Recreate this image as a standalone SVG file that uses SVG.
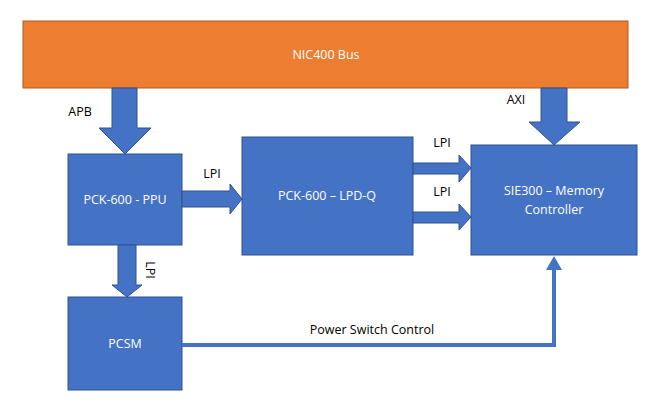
<svg xmlns="http://www.w3.org/2000/svg" width="652" height="406" viewBox="0 0 652 406">
<style>
.b{fill:#4472C4;stroke:#2F528F;stroke-width:1}
.a{fill:#4472C4;stroke:#2F528F;stroke-width:1;stroke-linejoin:miter}
.t{font-family:"Open Sans","Liberation Sans",sans-serif;font-size:12.5px;fill:#fff;text-anchor:middle}
.l{font-family:"Open Sans","Liberation Sans",sans-serif;font-size:12.5px;fill:#000;text-anchor:middle}
</style>
<rect width="652" height="406" fill="#fff"/>
<g id="bus"><rect x="23" y="21" width="605" height="67" fill="#ED7D31" stroke="#AE5A21"/><text class="t" x="326" y="59">NIC400 Bus</text></g>
<g id="ppu"><rect class="b" x="68" y="154" width="114" height="91"/><text class="t" x="125" y="204">PCK-600 - PPU</text></g>
<g id="lpdq"><rect class="b" x="242" y="137" width="171" height="118"/><text class="t" x="327" y="200">PCK-600 – LPD-Q</text></g>
<g id="sie"><rect class="b" x="471" y="145" width="166" height="110"/><text class="t" x="554" y="195">SIE300 – Memory</text><text class="t" x="554" y="214">Controller</text></g>
<g id="pcsm"><rect class="b" x="68" y="297" width="114" height="93"/><text class="t" x="125" y="348">PCSM</text></g>
<g id="connectors">
<polygon class="a" points="112,88 137,88 137,128 151,128 125,154 99,128 112,128"/>
<polygon class="a" points="541,88 567,88 567,122 580,122 554,145 529,122 541,122"/>
<polygon class="a" points="182,191 230,191 230,184 242,199 230,214 230,207 182,207"/>
<polygon class="a" points="413,163 459,163 459,155 471,168 459,182 459,174 413,174"/>
<polygon class="a" points="413,212 459,212 459,204 471,217 459,230 459,223 413,223"/>
<polygon class="a" points="118,245 136,245 136,285 142,285 127,297 112,285 118,285"/>
<path d="M182,345 H554 V268" fill="none" stroke="#4472C4" stroke-width="4"/>
<polygon points="554,256 562,270 546,270" fill="#4472C4"/>
<text class="l" x="80" y="116">APB</text>
<text class="l" x="516" y="104">AXI</text>
<text class="l" x="212" y="178">LPI</text>
<text class="l" x="442" y="147">LPI</text>
<text class="l" x="442" y="196">LPI</text>
<text class="l" transform="translate(146,270) rotate(90)">LPI</text>
<text class="l" x="372" y="334">Power Switch Control</text>
</g>
</svg>
